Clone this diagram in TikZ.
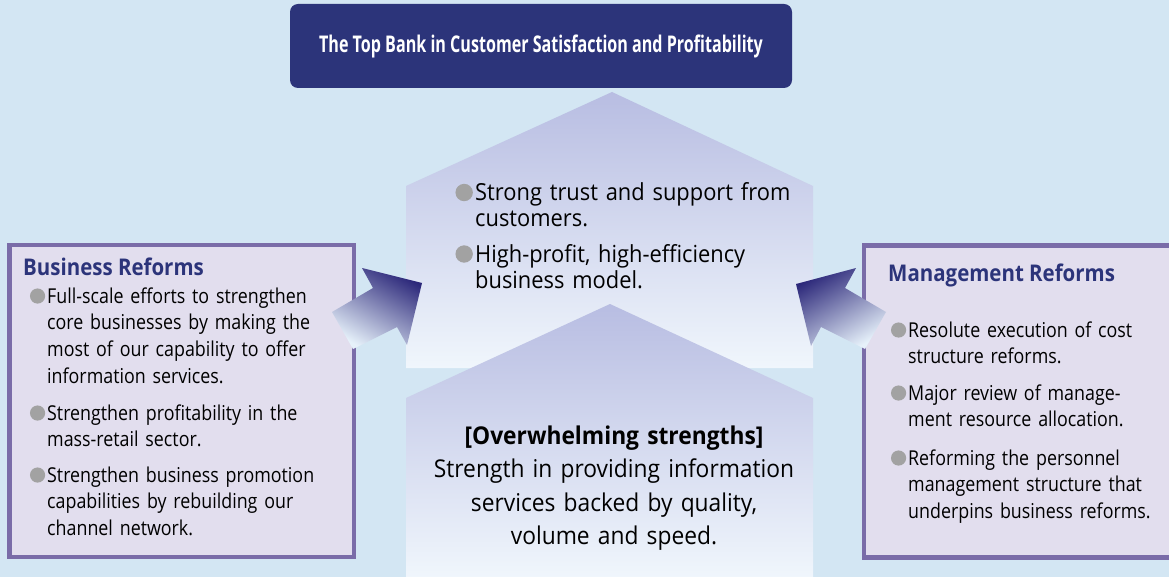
\documentclass[tikz,border=0pt]{standalone}
\usepackage{fontspec}
\usepackage{tikz}
\usetikzlibrary{positioning,calc}
\newfontfamily\sidefont[FakeStretch=0.87]{Open Sans}
\newfontfamily\headfont[FakeStretch=0.89]{Open Sans}
\newfontfamily\midfont[FakeStretch=0.93]{Open Sans}
\newfontfamily\titlefont[FakeStretch=0.70]{Open Sans}
\definecolor{bgblue}{RGB}{211,230,243}
\definecolor{banknavy}{RGB}{44,52,122}
\definecolor{housetop}{RGB}{184,189,226}
\definecolor{housebot}{RGB}{240,246,252}
\definecolor{reformfill}{RGB}{226,222,238}
\definecolor{reformline}{RGB}{122,108,168}
\definecolor{dotgrey}{RGB}{162,162,162}
\definecolor{arrowdark}{RGB}{44,40,122}
\definecolor{arrowlight}{RGB}{230,241,250}
% grey round bullet, hung left of the text
\newcommand{\bul}{\llap{\tikz[baseline=0pt]\fill[dotgrey] (0.36em,0.34em) circle (0.37em);\hspace{0.1em}}}
\tikzset{
  titlebox/.style={fill=banknavy,rounded corners=8pt,text=white,
    minimum width=502pt,minimum height=84pt,inner sep=0pt,
    font=\titlefont\bfseries\fontsize{23}{26}\selectfont},
  reformbox/.style={fill=reformfill,draw=reformline,line width=4.5pt,
    minimum height=311.5pt,inner sep=0pt},
  reformhead/.style={anchor=base west,inner sep=0pt,text=banknavy,
    font=\headfont\bfseries\fontsize{23}{26}\selectfont},
  reformitem/.style={anchor=base west,inner sep=0pt,text width=300pt,align=left,
    font=\sidefont\fontsize{20.5}{26.7}\selectfont},
  miditem/.style={anchor=base west,inner sep=0pt,text width=340pt,align=left,
    font=\midfont\fontsize{23.5}{26}\selectfont},
  house/.style={top color=housetop,bottom color=housebot,draw=none},
  fatarrow/.style={draw=none}
}
\begin{document}
\begin{tikzpicture}[x=1pt,y=-1pt]
  \useasboundingbox[fill=bgblue] (0,0) rectangle (1169,577);
  % the two stacked house shapes
  \shade[house] (406,368) -- (406,186) -- (612,92) -- (813,186) -- (813,368) -- cycle;
  \shade[house] (406,578) -- (406,398) -- (610,304) -- (813,398) -- (813,578) -- cycle;
  % goal on top
  \node[titlebox] (goal) at (541,46) {The Top Bank in Customer Satisfaction and Profitability};
  % reform boxes
  \node[reformbox,minimum width=344.5pt] (business) at (181.5,401) {};
  \node[reformbox,minimum width=316pt] (management) at (1022,401.5) {};
  % fat arrows into the house (y axis is flipped, so the angles are too)
  \shade[fatarrow,left color=arrowdark,right color=arrowlight,shading angle=-30]
    (332,312) -- (373,288) -- (362,268) -- (422,283) -- (407,345) -- (397,327) -- (353,349) -- cycle;
  \shade[fatarrow,left color=arrowdark,right color=arrowlight,shading angle=30]
    (886,312) -- (845,288) -- (856,268) -- (796,284) -- (811,346) -- (821,327) -- (865,349) -- cycle;
  % left box text
  \node[reformhead] (bushead) at (23,276) {Business Reforms};
  \node[reformitem] (bus1) at (47,303) {\bul Full-scale efforts to strengthen\\core businesses by making the\\most of our capability to offer\\information services.};
  \node[reformitem] (bus2) at (47,420) {\bul Strengthen profitability in the\\mass-retail sector.};
  \node[reformitem] (bus3) at (47,482) {\bul Strengthen business promotion\\capabilities by rebuilding our\\channel network.};
  % right box text
  \node[reformhead] (mgthead) at (888,281) {Management Reforms};
  \node[reformitem] (mgt1) at (908,337) {\bul Resolute execution of cost\\structure reforms.};
  \node[reformitem] (mgt2) at (908,400) {\bul Major review of manage-\\ment resource allocation.};
  \node[reformitem] (mgt3) at (908,465) {\bul Reforming the personnel\\management structure that\\underpins business reforms.};
  % house text
  \node[miditem] (trust) at (475,200.5) {\bul Strong trust and support from\\customers.};
  \node[miditem] (model) at (475,262) {\bul High-profit, high-efficiency\\business model.};
  \node[anchor=base,inner sep=0pt,text width=400pt,align=center,
    font=\midfont\fontsize{24.5}{33.5}\selectfont] (strength) at (614,444)
    {\textbf{[Overwhelming strengths]}\\Strength in providing information\\services backed by quality,\\volume and speed.};
\end{tikzpicture}
\end{document}
